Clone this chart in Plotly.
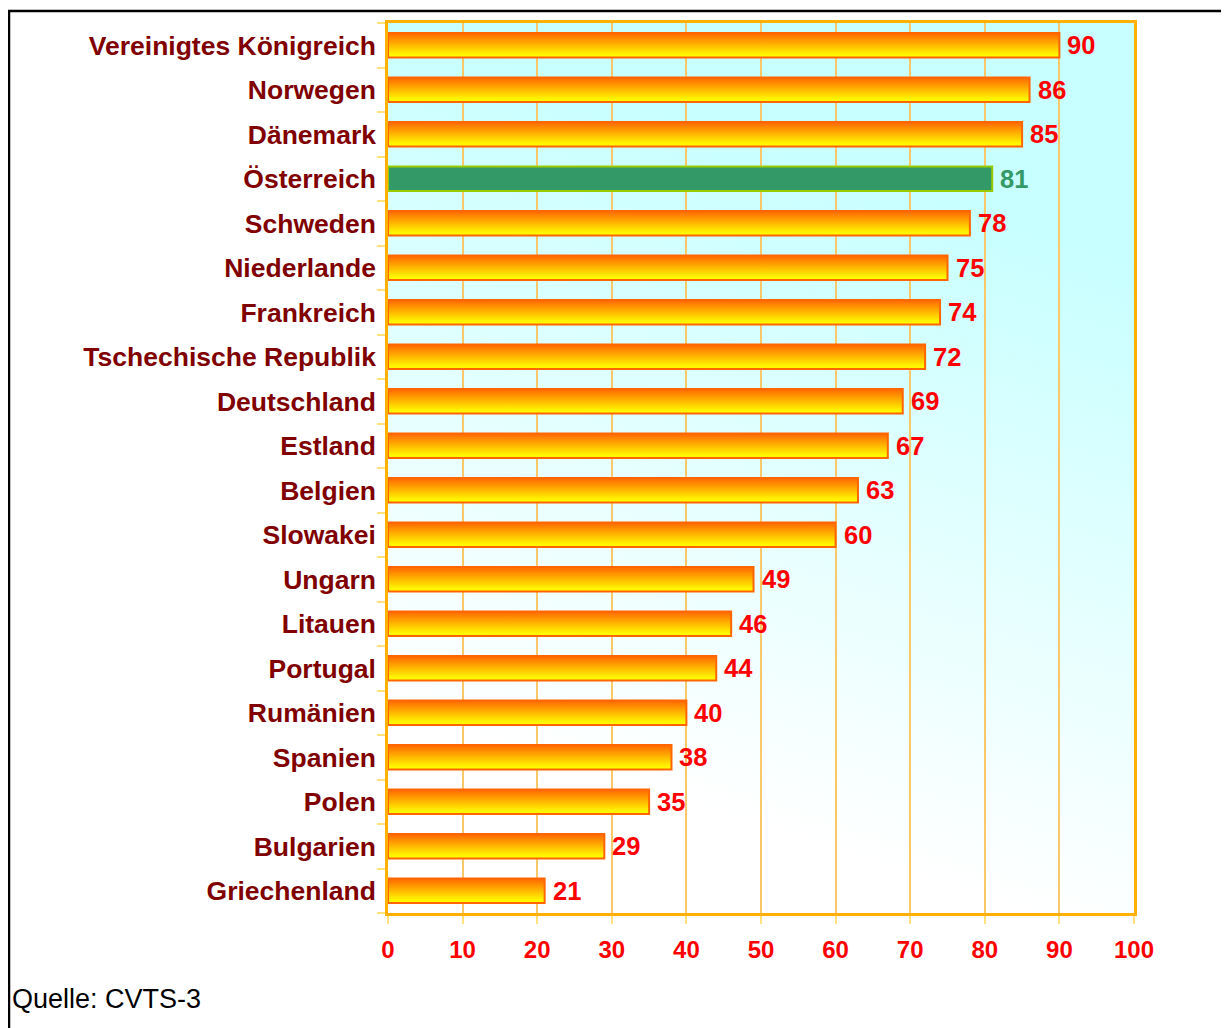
import base64
import plotly.graph_objects as go

countries = ["Vereinigtes Königreich", "Norwegen", "Dänemark", "Österreich", "Schweden",
             "Niederlande", "Frankreich", "Tschechische Republik", "Deutschland", "Estland",
             "Belgien", "Slowakei", "Ungarn", "Litauen", "Portugal", "Rumänien", "Spanien",
             "Polen", "Bulgarien", "Griechenland"]
values = [90, 86, 85, 81, 78, 75, 74, 72, 69, 67, 63, 60, 49, 46, 44, 40, 38, 35, 29, 21]
highlight = "Österreich"
x_ticks = [0, 10, 20, 30, 40, 50, 60, 70, 80, 90, 100]

n = len(countries)
ypos = [n - 1 - i for i in range(n)]
half = 0.275

FONT = "Arial, 'Liberation Sans', sans-serif"
fig = go.Figure()

for c, v, y in zip(countries, values, ypos):
    xs = [0, v, v, 0, 0]
    ys = [y - half, y - half, y + half, y + half, y - half]
    if c == highlight:
        fig.add_trace(go.Scatter(x=xs, y=ys, mode="lines", fill="toself",
                                 fillcolor="#339966", line=dict(color="#99CC00", width=2),
                                 hoverinfo="skip", showlegend=False))
    else:
        fig.add_trace(go.Scatter(x=xs, y=ys, mode="lines", fill="toself",
                                 fillgradient=dict(type="vertical",
                                                   colorscale=[[0, "#FFFF00"], [0.15, "#FFF200"], [1, "#FF6600"]]),
                                 line=dict(color="#FF6600", width=2),
                                 hoverinfo="skip", showlegend=False))

for c, v, y in zip(countries, values, ypos):
    fig.add_annotation(x=v, y=y, text=str(v), showarrow=False, xanchor="left", yanchor="middle",
                       xshift=6,
                       font=dict(family=FONT, size=25.5, weight="bold",
                                 color="#339966" if c == highlight else "#FF0000"))

svg = ("<svg xmlns='http://www.w3.org/2000/svg' width='100' height='100' viewBox='0 0 100 100' "
       "preserveAspectRatio='none'><defs><linearGradient id='g' x1='0' y1='0' x2='-0.193' y2='0.717'>"
       "<stop offset='0' stop-color='#C8FFFF'/><stop offset='1' stop-color='#FFFFFF'/></linearGradient></defs>"
       "<rect x='0' y='0' width='100' height='100' fill='url(#g)'/></svg>")
src = "data:image/svg+xml;base64," + base64.b64encode(svg.encode()).decode()
fig.add_layout_image(dict(source=src, xref="paper", yref="paper", x=0, y=1, sizex=1, sizey=1,
                          sizing="stretch", xanchor="left", yanchor="top", layer="below"))

# page has an 8px body margin; figure pixel = page pixel - 8
OFF = 8
W, H = 1229 - OFF, 1028 - OFF
L, R, T, B = 388 - OFF, 1134 - OFF, 23 - OFF, 913 - OFF
pw, ph = R - L, B - T

def px(xp):
    return (xp - OFF - L) / pw

def py(yp):
    return (B - (yp - OFF)) / ph

# outer frame (left and top edges)
fig.add_shape(type="line", xref="paper", yref="paper", x0=px(9), x1=px(9), y0=py(10), y1=py(1100),
              line=dict(color="black", width=2.5))
fig.add_shape(type="line", xref="paper", yref="paper", x0=px(8), x1=px(1300), y0=py(11), y1=py(11),
              line=dict(color="black", width=2.5))

fig.add_annotation(xref="paper", yref="paper", x=px(10), y=py(999), text="Quelle: CVTS-3",
                   showarrow=False, xanchor="left", yanchor="middle",
                   font=dict(family=FONT, size=27, color="black"))

fig.update_layout(
    width=W, height=H,
    margin=dict(l=L, r=W - R, t=T, b=H - B, pad=0),
    paper_bgcolor="white", plot_bgcolor="white",
    showlegend=False,
    xaxis=dict(range=[0, 100], tickvals=x_ticks, ticktext=[str(t) for t in x_ticks],
               showgrid=True, gridcolor="#F9C86A", gridwidth=1.5,
               showline=True, linecolor="#FFB000", linewidth=2.5, mirror=True,
               ticks="outside", ticklen=8, tickwidth=2, tickcolor="#FFE27A",
               tickfont=dict(family=FONT, size=24, weight="bold", color="#FF0000"),
               zeroline=False, fixedrange=True, ticklabelstandoff=5),
    yaxis=dict(range=[-0.5, n - 0.5], tickvals=ypos, ticktext=countries,
               showgrid=False, zeroline=False,
               showline=True, linecolor="#FFB000", linewidth=2.5, mirror=True,
               ticks="",
               minor=dict(tickvals=[y - 0.5 for y in range(n + 1)], ticks="outside", ticklen=8,
                          tickwidth=2, tickcolor="#FFE27A", showgrid=False),
               tickfont=dict(family=FONT, size=26.5, weight="bold", color="#800000"),
               ticklabelstandoff=4, fixedrange=True),
)

fig.write_html("out.html")
